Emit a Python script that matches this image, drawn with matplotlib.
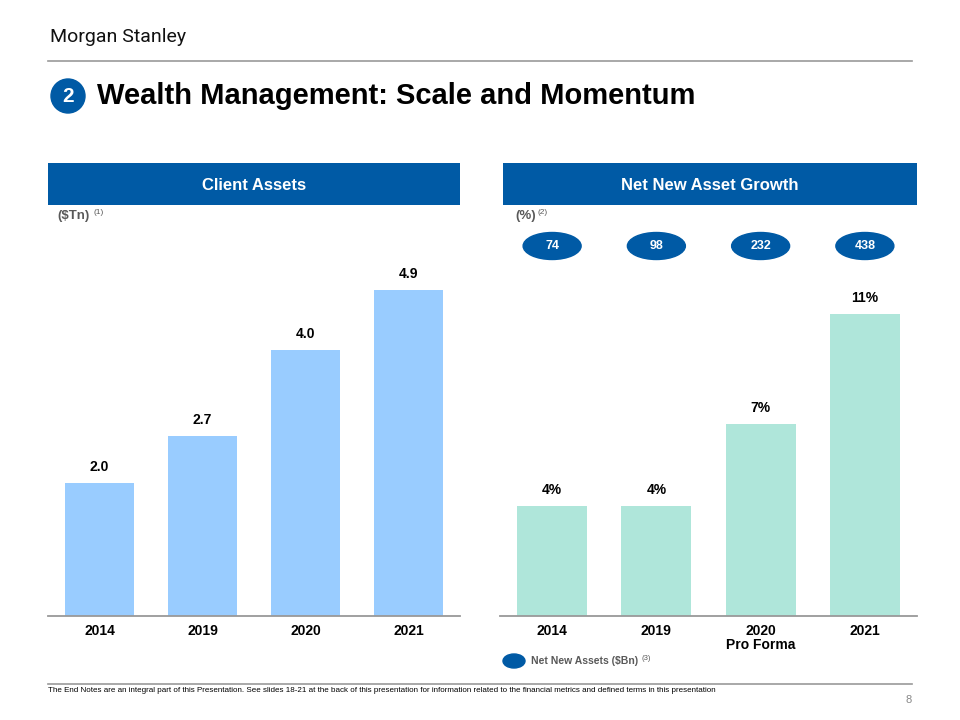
import matplotlib.pyplot as plt
from matplotlib.patches import Rectangle, Ellipse

plt.rcParams["font.family"] = ["Liberation Sans", "DejaVu Sans"]

years = ["2014", "2019", "2020", "2021"]
client_assets = [2.0, 2.7, 4.0, 4.9]
client_labels = ["2.0", "2.7", "4.0", "4.9"]

nna_years = ["2014", "2019", "2020\nPro Forma", "2021"]
nna_growth = [4, 4, 7, 11]
nna_labels = ["4%", "4%", "7%", "11%"]
nna_bn = ["74", "98", "232", "438"]

W, H = 960, 720
BLUE = "#005AA5"
GRAY_TXT = "#595959"

fig = plt.figure(figsize=(9.6, 7.2), dpi=100)


def fx(px):
    return px / W


def fy(py):
    return 1 - py / H


def box(x0, y0, x1, y1, **kw):
    fig.add_artist(Rectangle((fx(x0), fy(y1)), fx(x1) - fx(x0), fy(y0) - fy(y1),
                             transform=fig.transFigure, **kw))


# header
fig.text(fx(50), fy(37), "Morgan Stanley", fontsize=14, color="#111111",
         va="center", ha="left", family=["Roboto", "Liberation Sans"])
fig.add_artist(plt.Line2D([fx(48), fx(912)], [fy(61), fy(61)], color="#999999", lw=1.2,
                          transform=fig.transFigure))
fig.add_artist(Ellipse((fx(68), fy(96)), fx(34), 34 / H, color=BLUE, transform=fig.transFigure))
fig.text(fx(68), fy(97), "2", color="white", fontsize=15, fontweight="bold", ha="center", va="center")
fig.text(fx(97), fy(96), "Wealth Management: Scale and Momentum", fontsize=21,
         fontweight="bold", ha="left", va="center", color="black")

# section headers
for (x0, x1, title) in [(48, 460, "Client Assets"), (503, 917, "Net New Asset Growth")]:
    box(x0, 163, x1, 205, color=BLUE, lw=0)
    fig.text(fx((x0 + x1) / 2), fy(185), title, color="white", fontsize=12,
             fontweight="bold", ha="center", va="center")

fig.text(fx(57), fy(216), "($Tn)", color=GRAY_TXT, fontsize=9.5, fontweight="bold", va="center")
fig.text(fx(94), fy(212), "(1)", color=GRAY_TXT, fontsize=6, va="center")
fig.text(fx(515), fy(216), "(%)", color=GRAY_TXT, fontsize=9.5, fontweight="bold", va="center")
fig.text(fx(538), fy(212), "(2)", color=GRAY_TXT, fontsize=6, va="center")

# left chart
ax1 = fig.add_axes([fx(48), fy(616), fx(460) - fx(48), (616 - 230) / H])
x = range(len(years))
ax1.bar(x, client_assets, width=0.67, color="#99CCFF")
ax1.set_xlim(-0.5, 3.5)
ax1.set_ylim(0, 386 / 66.6)
for i, v in enumerate(client_assets):
    ax1.annotate(client_labels[i], (i, v), xytext=(0, 9), textcoords="offset pixels",
                 ha="center", va="bottom", fontsize=10, fontweight="bold")

# right chart
ax2 = fig.add_axes([fx(500), fy(616), fx(917) - fx(500), (616 - 230) / H])
ax2.bar(x, nna_growth, width=0.67, color="#AFE6DA")
ax2.set_xlim(-0.5, 3.5)
ax2.set_ylim(0, 386 / 27.45)
for i, v in enumerate(nna_growth):
    ax2.annotate(nna_labels[i], (i, v), xytext=(0, 9), textcoords="offset pixels",
                 ha="center", va="bottom", fontsize=10, fontweight="bold")

for ax, labels in [(ax1, years), (ax2, nna_years)]:
    for s in ["top", "right", "left"]:
        ax.spines[s].set_visible(False)
    ax.spines["bottom"].set_color("#999999")
    ax.spines["bottom"].set_linewidth(1.3)
    ax.set_yticks([])
    ax.set_xticks(list(x))
    ax.set_xticklabels(labels, fontsize=10, fontweight="bold", linespacing=0.95)
    ax.tick_params(axis="x", length=0, pad=6)

# NNA ovals
for i, t in enumerate(nna_bn):
    cx = ax2.transData.transform((i, 0))[0]
    fig.add_artist(Ellipse((cx / W, fy(246)), fx(58), 27 / H, color=BLUE,
                           transform=fig.transFigure))
    fig.text(cx / W, fy(246), t, color="white", fontsize=9, fontweight="bold",
             ha="center", va="center")

# legend
fig.add_artist(Ellipse((fx(514), fy(661)), fx(22), 14 / H, color=BLUE, transform=fig.transFigure))
fig.text(fx(531), fy(661), "Net New Assets ($Bn)", color=GRAY_TXT, fontsize=7.5,
         fontweight="bold", va="center")
fig.text(fx(642), fy(658), "(3)", color=GRAY_TXT, fontsize=5.5, va="center")

# footer
fig.add_artist(plt.Line2D([fx(48), fx(912)], [fy(684), fy(684)], color="#999999", lw=1.2,
                          transform=fig.transFigure))
fig.text(fx(48), fy(691), "The End Notes are an integral part of this Presentation. See slides 18-21 at the back "
         "of this presentation for information related to the financial metrics and defined terms in this presentation",
         fontsize=5.75, va="center", color="black")
fig.text(fx(912), fy(700), "8", fontsize=8, color="#888888", ha="right", va="center")

fig.savefig("out.png", dpi=100)
